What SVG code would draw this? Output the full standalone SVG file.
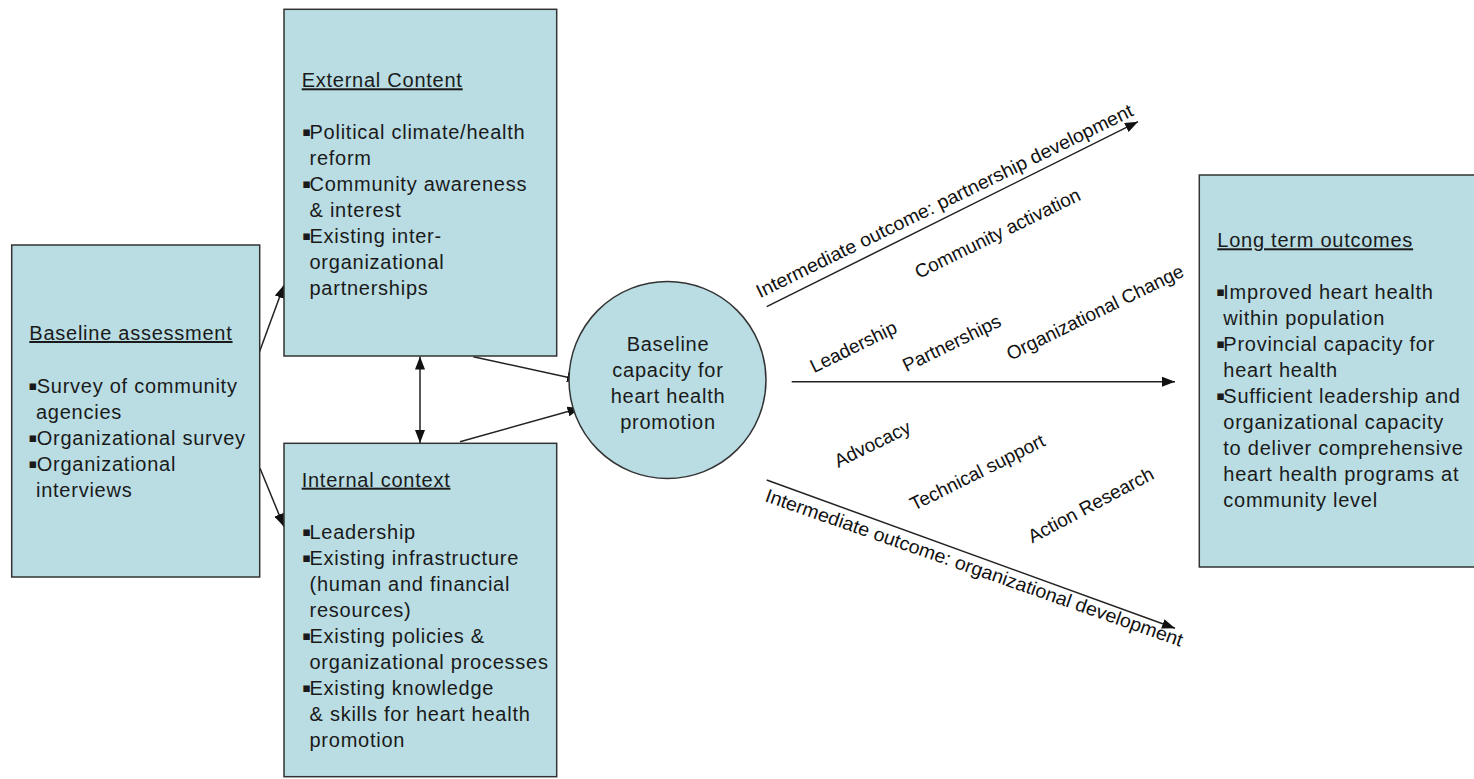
<svg xmlns="http://www.w3.org/2000/svg" width="1474" height="779" viewBox="0 0 1474 779">
<style>
.box{fill:#b9dde3;stroke:#333;stroke-width:1.5}
.t{font-family:"Liberation Sans",Arial,sans-serif;font-size:20px;letter-spacing:0.75px;fill:#1a1a1a}
.u{text-decoration:underline}
.b{font-family:"DejaVu Sans",sans-serif;font-size:13px;letter-spacing:0}
.r{font-family:"Liberation Sans",Arial,sans-serif;font-size:19px;fill:#111}
.c{fill:none;stroke:#222;stroke-width:1.5}
</style>
<defs>
<marker id="ah" markerUnits="userSpaceOnUse" markerWidth="13" markerHeight="10" refX="13" refY="5" orient="auto-start-reverse">
<path d="M0,0 L13,5 L0,10 Z" fill="#111"/>
</marker>
</defs>
<rect width="1474" height="779" fill="#fff"/>

<g id="connectors">
<line class="c" x1="259.5" y1="351.7" x2="284" y2="285" marker-end="url(#ah)"/>
<line class="c" x1="260" y1="468.3" x2="284" y2="526.7" marker-end="url(#ah)"/>
<line class="c" x1="420" y1="356.5" x2="420" y2="443" marker-start="url(#ah)" marker-end="url(#ah)"/>
<line class="c" x1="473.3" y1="356.7" x2="580" y2="380" marker-end="url(#ah)"/>
<line class="c" x1="460" y1="441.7" x2="580.5" y2="408" marker-end="url(#ah)"/>
<line class="c" x1="766.7" y1="306.7" x2="1138" y2="121.7" marker-end="url(#ah)"/>
<line class="c" x1="791.7" y1="381.7" x2="1175" y2="381.7" marker-end="url(#ah)"/>
<line class="c" x1="766.7" y1="480" x2="1175" y2="628.3" marker-end="url(#ah)"/>
<text class="r" transform="translate(760,298.3) rotate(-26.05)" textLength="417" lengthAdjust="spacingAndGlyphs">Intermediate outcome: partnership development</text>
<text class="r" transform="translate(764,501) rotate(19.3)" textLength="441" lengthAdjust="spacingAndGlyphs">Intermediate outcome: organizational development</text>
<text class="r" text-anchor="middle" transform="translate(997.5,233.3) rotate(-26)" y="6.5">Community activation</text>
<text class="r" text-anchor="middle" transform="translate(853.3,346.7) rotate(-26)" y="6.5">Leadership</text>
<text class="r" text-anchor="middle" transform="translate(951.7,343) rotate(-26)" y="6.5">Partnerships</text>
<text class="r" text-anchor="middle" transform="translate(1095,312.3) rotate(-26)" y="6.5">Organizational Change</text>
<text class="r" text-anchor="middle" transform="translate(872.3,444) rotate(-26)" y="6.5">Advocacy</text>
<text class="r" text-anchor="middle" transform="translate(977.3,472.3) rotate(-26.5)" y="6.5">Technical support</text>
<text class="r" text-anchor="middle" transform="translate(1090.7,505) rotate(-28)" y="6.5">Action Research</text>
</g>

<g id="baseline-assessment">
<rect class="box" x="11.7" y="245" width="248" height="332"/>
<text class="t u" x="29.3" y="340">Baseline assessment</text>
<text class="t"><tspan class="b" x="28.5" y="390">▪</tspan><tspan x="36.7" y="393">Survey of community</tspan></text>
<text class="t" x="36" y="419">agencies</text>
<text class="t"><tspan class="b" x="28.5" y="442">▪</tspan><tspan x="36.7" y="445">Organizational survey</tspan></text>
<text class="t"><tspan class="b" x="28.5" y="468">▪</tspan><tspan x="36.7" y="471">Organizational</tspan></text>
<text class="t" x="36" y="497">interviews</text>
</g>

<g id="external-content">
<rect class="box" x="284" y="9.3" width="272.7" height="346.7"/>
<text class="t u" x="301.7" y="87.3">External Content</text>
<text class="t"><tspan class="b" x="302.3" y="136.3">▪</tspan><tspan x="309.5" y="139.3">Political climate/health</tspan></text>
<text class="t" x="309.5" y="165.3">reform</text>
<text class="t"><tspan class="b" x="302.3" y="188.3">▪</tspan><tspan x="309.5" y="191.3">Community awareness</tspan></text>
<text class="t" x="309.5" y="217.3">&amp; interest</text>
<text class="t"><tspan class="b" x="302.3" y="240.3">▪</tspan><tspan x="309.5" y="243.3">Existing inter-</tspan></text>
<text class="t" x="309.5" y="269.3">organizational</text>
<text class="t" x="309.5" y="295.3">partnerships</text>
</g>

<g id="internal-context">
<rect class="box" x="284" y="443.3" width="272.7" height="333.4"/>
<text class="t u" x="301.7" y="486.7">Internal context</text>
<text class="t"><tspan class="b" x="302.3" y="536.3">▪</tspan><tspan x="309.5" y="539.3">Leadership</tspan></text>
<text class="t"><tspan class="b" x="302.3" y="562.3">▪</tspan><tspan x="309.5" y="565.3">Existing infrastructure</tspan></text>
<text class="t" x="309.5" y="591.3">(human and financial</text>
<text class="t" x="309.5" y="617.3">resources)</text>
<text class="t"><tspan class="b" x="302.3" y="640.3">▪</tspan><tspan x="309.5" y="643.3">Existing policies &amp;</tspan></text>
<text class="t" x="309.5" y="669.3">organizational processes</text>
<text class="t"><tspan class="b" x="302.3" y="692.3">▪</tspan><tspan x="309.5" y="695.3">Existing knowledge</tspan></text>
<text class="t" x="309.5" y="721.3">&amp; skills for heart health</text>
<text class="t" x="309.5" y="747.3">promotion</text>
</g>

<g id="baseline-capacity">
<circle class="box" cx="667.5" cy="380" r="98.5"/>
<text class="t" text-anchor="middle" x="668" y="350.7">Baseline</text>
<text class="t" text-anchor="middle" x="668" y="376.7">capacity for</text>
<text class="t" text-anchor="middle" x="668" y="402.7">heart health</text>
<text class="t" text-anchor="middle" x="668" y="428.7">promotion</text>
</g>

<g id="long-term-outcomes">
<rect class="box" x="1199.3" y="175" width="290" height="392"/>
<text class="t u" x="1217.3" y="247.3">Long term outcomes</text>
<text class="t"><tspan class="b" x="1216.3" y="296.3">▪</tspan><tspan x="1223.3" y="299.3">Improved heart health</tspan></text>
<text class="t" x="1223.3" y="325.3">within population</text>
<text class="t"><tspan class="b" x="1216.3" y="348.3">▪</tspan><tspan x="1223.3" y="351.3">Provincial capacity for</tspan></text>
<text class="t" x="1223.3" y="377.3">heart health</text>
<text class="t"><tspan class="b" x="1216.3" y="400.3">▪</tspan><tspan x="1223.3" y="403.3">Sufficient leadership and</tspan></text>
<text class="t" x="1223.3" y="429.3">organizational capacity</text>
<text class="t" x="1223.3" y="455.3">to deliver comprehensive</text>
<text class="t" x="1223.3" y="481.3">heart health programs at</text>
<text class="t" x="1223.3" y="507.3">community level</text>
</g>
</svg>
